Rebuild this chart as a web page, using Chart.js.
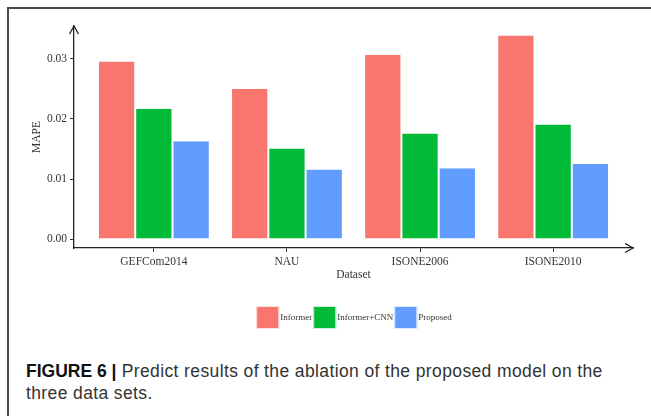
<!DOCTYPE html>
<html><head><meta charset="utf-8">
<script src="https://cdn.jsdelivr.net/npm/chart.js@4"></script>
<style>
html,body{margin:0;padding:0;background:#fff;width:651px;height:416px;overflow:hidden;}
#frame{position:absolute;left:7px;top:7px;width:644px;height:409px;border-top:2px solid #4a4a4a;border-left:2px solid #4a4a4a;}
#c{position:absolute;left:9px;top:9px;}
#cap{position:absolute;left:26px;top:360px;font-family:"Liberation Sans",Arial,sans-serif;font-size:17.5px;letter-spacing:0.38px;line-height:22px;color:#333;white-space:nowrap;}
#cap b{color:#111;letter-spacing:0;}
</style></head><body>
<div id="frame"></div>
<canvas id="c" width="642" height="340"></canvas>
<div id="cap"><b>FIGURE 6 |</b> Predict results of the ablation of the proposed model on the<br>three data sets.</div>
<script>
const categories = ["GEFCom2014", "NAU", "ISONE2006", "ISONE2010"];
const seriesNames = ["Informer", "Informer+CNN", "Proposed"];
const informer = [0.0296, 0.0250, 0.0307, 0.0339];
const informerCnn = [0.0217, 0.0151, 0.0176, 0.0191];
const proposed = [0.0163, 0.0116, 0.0118, 0.0125];
const yTicks = [0.00, 0.01, 0.02, 0.03];
const colors = ["#F8766D", "#00BA38", "#619CFF"];

const seriesValues = [informer, informerCnn, proposed];
const serif = "'Liberation Serif','Times New Roman',serif";
const textColor = "#333";

const datasets = seriesValues.map((vals, s) => ({
  label: seriesNames[s],
  data: vals.map((v, i) => ({ x: i + 1, y: v })),
  backgroundColor: colors[s],
  borderColor: "#ffffff",
  borderWidth: { top: 0, left: 1, right: 1, bottom: 0 },
  borderSkipped: false,
  categoryPercentage: 0.84,
  barPercentage: 1.0
}));

const extras = {
  id: "extras",
  afterDraw(chart) {
    const ctx = chart.ctx, a = chart.chartArea;
    ctx.save();
    ctx.strokeStyle = "#222";
    ctx.lineWidth = 1.3;
    ctx.beginPath();
    ctx.moveTo(a.right - 8, a.bottom - 4.5);
    ctx.lineTo(a.right, a.bottom);
    ctx.lineTo(a.right - 8, a.bottom + 4.5);
    ctx.stroke();
    ctx.beginPath();
    ctx.moveTo(a.left - 4.5, a.top + 8);
    ctx.lineTo(a.left, a.top);
    ctx.lineTo(a.left + 4.5, a.top + 8);
    ctx.stroke();
    // legend
    ctx.font = "9px " + serif;
    const box = 23, gap = 1;
    const items = chart.data.datasets.map(d => ({ label: d.label, color: d.backgroundColor, w: ctx.measureText(d.label).width }));
    const total = items.reduce((s, it) => s + box + gap + it.w + gap, 0);
    let x = (a.left + a.right) / 2 + 1 - total / 2;
    const cy = 308.5;
    ctx.textBaseline = "middle";
    ctx.textAlign = "left";
    items.forEach(it => {
      ctx.fillStyle = it.color;
      ctx.fillRect(x, cy - box / 2, box, box);
      ctx.strokeStyle = "rgba(255,255,255,0.8)";
      ctx.lineWidth = 1;
      ctx.strokeRect(x + 0.5, cy - box / 2 + 0.5, box - 1, box - 1);
      x += box + gap;
      ctx.fillStyle = textColor;
      ctx.fillText(it.label, x, cy);
      x += it.w + gap;
    });
    ctx.restore();
  }
};

new Chart(document.getElementById("c"), {
  type: "bar",
  data: { datasets },
  plugins: [extras],
  options: {
    responsive: false,
    animation: false,
    devicePixelRatio: 1,
    layout: { padding: { left: 0, top: 17, right: 18, bottom: 67 } },
    plugins: { legend: { display: false }, tooltip: { enabled: false }, title: { display: false } },
    scales: {
      x: {
        type: "linear",
        offset: false,
        min: 0.4,
        max: 4.6,
        afterBuildTicks: s => { s.ticks = categories.map((c, i) => ({ value: i + 1 })); },
        afterFit: s => { s.height = 34; },
        ticks: {
          autoSkip: false, maxRotation: 0, padding: 3,
          color: textColor, font: { family: serif, size: 11.5 },
          callback: v => categories[Math.round(v) - 1]
        },
        grid: { display: true, offset: false, drawOnChartArea: false, drawTicks: true, tickLength: 4, color: "#333", lineWidth: 1 },
        border: { display: true, color: "#222", width: 1.3 },
        title: { display: true, text: "Dataset", color: textColor, font: { family: serif, size: 11.5 }, padding: { top: 0, bottom: 0 } }
      },
      y: {
        min: -0.0015,
        max: 0.0355,
        afterBuildTicks: s => { s.ticks = yTicks.map(v => ({ value: v })); },
        afterFit: s => { s.width = 65; },
        ticks: {
          padding: 3, color: textColor, font: { family: serif, size: 11.5 },
          callback: v => Number(v).toFixed(2)
        },
        grid: { display: true, drawOnChartArea: false, drawTicks: true, tickLength: 4, color: "#333", lineWidth: 1 },
        border: { display: true, color: "#222", width: 1.3 },
        title: { display: true, text: "MAPE", color: textColor, font: { family: serif, size: 11.5 }, padding: { top: 21, bottom: 0 } }
      }
    }
  }
});
</script>
</body></html>
